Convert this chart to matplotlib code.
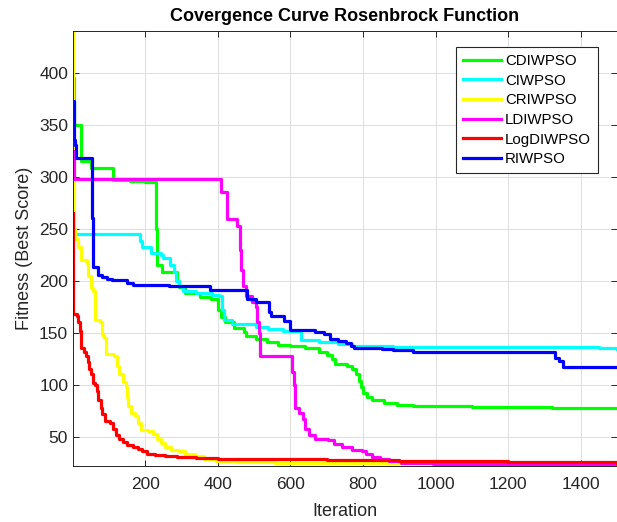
import matplotlib
matplotlib.use('Agg')
import matplotlib.pyplot as plt

plt.rcParams['font.family'] = ['Liberation Sans', 'DejaVu Sans']

# Curve breakpoints (iteration, best score)
cdiwpso_x = [1, 4, 24, 50, 110, 157, 200, 231, 233, 247, 288, 292, 310, 350, 380, 400, 410, 420, 444, 472,
             478, 505, 535, 565, 600, 640, 678, 700, 715, 722, 755, 770, 780, 790, 795, 800, 810, 825, 857,
             895, 938, 1100, 1320, 1500]
cdiwpso_y = [395, 350, 315, 308, 297, 296, 295, 250, 215, 208, 200, 194, 188, 184, 182, 172, 165, 160, 155, 151,
             147, 144, 141, 138, 137, 135, 132, 129, 125, 120, 118, 115, 110, 104, 98, 92, 88, 85, 83,
             81, 80, 79, 78, 77.5]

ciwpso_x = [1, 187, 190, 216, 243, 250, 268, 278, 285, 292, 305, 340, 385, 403, 412, 418, 440, 505, 537, 580,
            630, 678, 732, 770, 884, 1450, 1500]
ciwpso_y = [245, 238, 232, 227, 225, 222, 215, 208, 200, 195, 190, 188, 186, 185, 172, 162, 158, 156, 154, 152,
            143, 141, 139, 137, 136, 135.5, 134.5]

criwpso_x = [1, 2, 3, 7, 15, 24, 40, 43, 50, 55, 61, 75, 80, 86, 91, 115, 122, 129, 140, 146, 151, 153, 162,
             173, 180, 189, 209, 222, 233, 243, 254, 271, 292, 309, 336, 363, 395, 450, 558, 775, 1000, 1500]
criwpso_y = [440, 330, 250, 240, 232, 220, 217, 205, 193, 190, 162, 160, 148, 145, 130, 128, 118, 110, 103, 98,
             88, 80, 73, 70, 63, 57, 56, 53, 48, 44, 40, 37, 36, 34, 32, 29, 27, 26, 25, 24.5, 23.8, 23.5]

ldiwpso_x = [1, 5, 410, 425, 452, 460, 463, 469, 477, 495, 504, 509, 513, 517, 605, 610, 614, 625, 634, 640,
             651, 667, 705, 721, 743, 770, 797, 808, 825, 846, 873, 906, 993, 1210, 1500]
ldiwpso_y = [325, 298, 285, 259, 253, 230, 210, 195, 185, 180, 175, 160, 150, 128, 112, 100, 78, 73, 67, 58,
             52, 48, 47, 43, 40, 37, 36, 34, 31, 29, 27, 25, 24, 23, 22.5]

logdiwpso_x = [1, 2, 11, 16, 20, 22, 31, 36, 42, 46, 50, 55, 61, 67, 71, 77, 82, 88, 102, 111, 119, 129, 140,
               151, 167, 180, 191, 205, 227, 254, 287, 341, 400, 500, 700, 900, 1200, 1500]
logdiwpso_y = [265, 168, 166, 160, 152, 135, 132, 128, 122, 115, 110, 102, 100, 94, 85, 78, 72, 65, 63, 58, 52,
               48, 45, 42, 40, 38, 36, 34, 33, 32, 31, 30, 29, 28.5, 28, 27, 26, 25.2]

riwpso_x = [1, 3, 5, 7, 9, 54, 56, 70, 80, 95, 108, 151, 165, 265, 379, 480, 505, 540, 547, 582, 600, 667,
            694, 710, 732, 754, 768, 776, 852, 884, 938, 1330, 1341, 1352, 1500]
riwpso_y = [373, 355, 335, 330, 318, 260, 213, 206, 204, 202, 201, 198, 196, 195, 191, 182, 180, 170, 166, 161,
            153, 151, 149, 144, 142, 140, 137, 135, 134, 133, 132, 126, 123, 117, 117]

names = ['CDIWPSO', 'CIWPSO', 'CRIWPSO', 'LDIWPSO', 'LogDIWPSO', 'RIWPSO']
colors = ['#00ff00', '#00ffff', '#ffff00', '#ff00ff', '#ff0000', '#0000ff']
xs = [cdiwpso_x, ciwpso_x, criwpso_x, ldiwpso_x, logdiwpso_x, riwpso_x]
ys = [cdiwpso_y, ciwpso_y, criwpso_y, ldiwpso_y, logdiwpso_y, riwpso_y]
xticks = [200, 400, 600, 800, 1000, 1200, 1400]
yticks = [50, 100, 150, 200, 250, 300, 350, 400]

fig = plt.figure(figsize=(6.17, 5.22), dpi=100)
ax = fig.add_axes([0.1183, 0.1073, 0.8817, 0.8333])

for x, y, c, n in zip(xs, ys, colors, names):
    ax.plot(x, y, color=c, lw=2.3, drawstyle='steps-post', label=n)

ax.set_xlim(1, 1500)
ax.set_ylim(22, 440)
ax.set_xticks(xticks)
ax.set_yticks(yticks)
ax.grid(True, color='#dedede', lw=0.7)
ax.set_axisbelow(True)
ax.tick_params(direction='in', top=True, right=True, length=4, labelsize=12.5, colors='#262626', width=0.7)
ax.tick_params(axis='x', pad=8)
for s in ax.spines.values():
    s.set_color('#262626')
    s.set_linewidth(0.7)

ax.set_title('Covergence Curve Rosenbrock Function', fontsize=13, fontweight='bold', pad=7)
ax.set_xlabel('Iteration', fontsize=13, color='#262626', labelpad=8)
ax.set_ylabel('Fitness (Best Score)', fontsize=13, color='#262626', labelpad=4)

leg = ax.legend(loc='upper right', bbox_to_anchor=(0.965, 0.963), borderaxespad=0, fontsize=10.8,
                handlelength=2.5, labelspacing=0.38, handletextpad=0.3, borderpad=0.45, fancybox=False)
leg.get_frame().set_edgecolor('#262626')
leg.get_frame().set_linewidth(0.8)
leg.get_frame().set_alpha(1)

fig.savefig('out.png', dpi=100)
